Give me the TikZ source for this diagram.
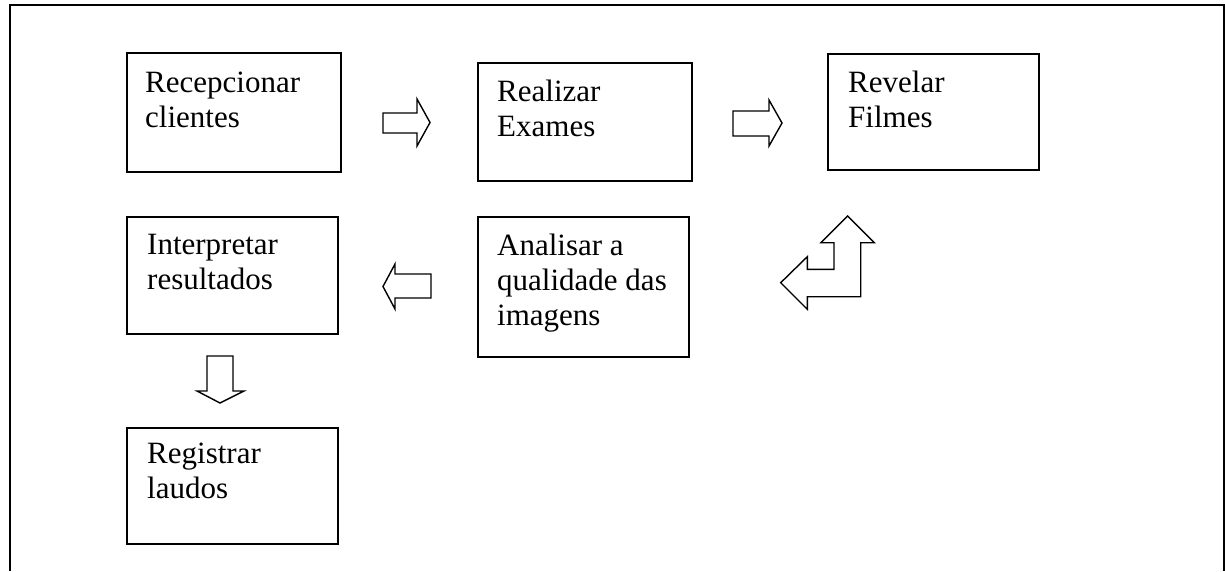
\documentclass[tikz,border=0pt]{standalone}
\usepackage{fontspec}
\setmainfont{Liberation Serif}
\usetikzlibrary{calc}
\tikzset{
  box/.style={draw, line width=1.6pt, minimum width=#1, anchor=north west, inner sep=0pt},
  lbl/.style={anchor=base west, inner sep=0pt, font=\fontsize{31}{35}\selectfont},
  blockarrow/.style={draw, line width=1.4pt, line join=miter, fill=white},
  frame/.style={line width=1.6pt}
}
\newcommand{\twolines}[2]{\vtop{\hbox{#1}\hbox{#2}}}
\newcommand{\threelines}[3]{\vtop{\hbox{#1}\hbox{#2}\hbox{#3}}}
\begin{document}
\begin{tikzpicture}[x=1pt,y=-1pt]
\useasboundingbox (0,0) rectangle (1225,571);
% outer frame (open at the bottom)
\draw[frame] (10,571) -- (10,5) -- (1224,5) -- (1224,571);

% boxes
\node[box=214pt, minimum height=119pt] (b1) at (126,52) {};
\node[box=214pt, minimum height=118pt] (b2) at (477,62) {};
\node[box=211pt, minimum height=116pt] (b3) at (827,53) {};
\node[box=211pt, minimum height=117pt] (b4) at (126,216) {};
\node[box=211pt, minimum height=140pt] (b5) at (477,216) {};
\node[box=211pt, minimum height=116pt] (b6) at (126,427) {};

% texts
\node[lbl] (t1) at ($(b1.north west)+(19,40)$) {\twolines{Recepcionar}{clientes}};
\node[lbl] (t2) at ($(b2.north west)+(20,39)$) {\twolines{Realizar}{Exames}};
\node[lbl] (t3) at ($(b3.north west)+(21,39)$) {\twolines{Revelar}{Filmes}};
\node[lbl] (t4) at ($(b4.north west)+(21,38)$) {\twolines{Interpretar}{resultados}};
\node[lbl] (t5) at ($(b5.north west)+(20,39)$) {\threelines{Analisar a}{qualidade das}{imagens}};
\node[lbl] (t6) at ($(b6.north west)+(21,36)$) {\twolines{Registrar}{laudos}};

% block arrows
% right arrow between b1 and b2
\draw[blockarrow] (383,113) -- (417,113) -- (417,99) -- (430,122.5) -- (417,146) -- (417,133) -- (383,133) -- cycle;
% right arrow between b2 and b3
\draw[blockarrow] (733,111) -- (769,111) -- (769,100) -- (782,123) -- (769,146) -- (769,136) -- (733,136) -- cycle;
% left arrow between b5 and b4
\draw[blockarrow] (431,274) -- (395,274) -- (395,264) -- (383,286.5) -- (395,309) -- (395,298) -- (431,298) -- cycle;
% down arrow between b4 and b6
\draw[blockarrow] (207,356) -- (233,356) -- (233,391) -- (244,391) -- (220,403) -- (197,391) -- (207,391) -- cycle;
% bent (left-up) arrow
\draw[blockarrow] (780.7,282.7) -- (807.3,256.7) -- (807.3,269.3) -- (834,269.3) -- (834,242.7) -- (821,242.7)
  -- (847.7,216) -- (874.3,242.7) -- (860.7,242.7) -- (860.7,296.7) -- (807.3,296.7) -- (807.3,309.3) -- cycle;
\end{tikzpicture}
\end{document}
